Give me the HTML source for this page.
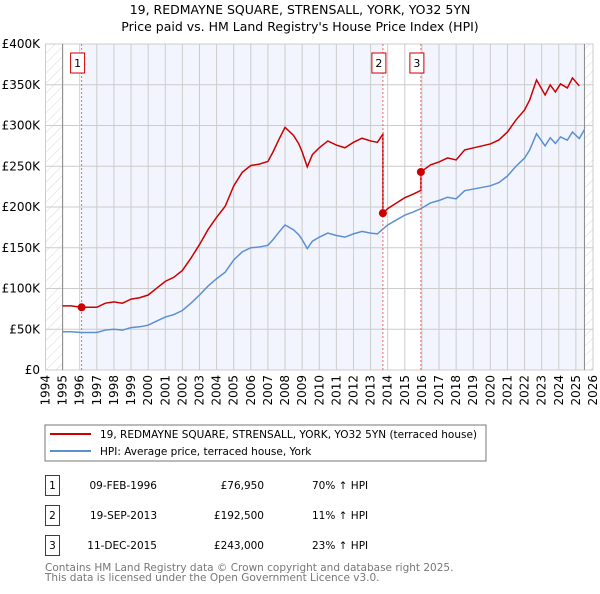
<!DOCTYPE html>
<html><head><meta charset="utf-8"><style>
body{margin:0;background:#fff;font-family:"DejaVu Sans","Liberation Sans",sans-serif;}
svg text{font-family:"DejaVu Sans","Liberation Sans",sans-serif;}
</style></head><body>
<svg id="chart" width="600" height="590" xmlns="http://www.w3.org/2000/svg">
<defs>
<pattern id="hatch" width="7" height="7" patternUnits="userSpaceOnUse" patternTransform="rotate(45)">
<line x1="0" y1="0" x2="0" y2="7" stroke="#d8d8d8" stroke-width="1"/></pattern>
</defs>
<text x="300" y="14" text-anchor="middle" font-size="12.5">19, REDMAYNE SQUARE, STRENSALL, YORK, YO32 5YN</text>
<text x="300" y="31" text-anchor="middle" font-size="12.5">Price paid vs. HM Land Registry's House Price Index (HPI)</text>
<g id="plot"></g>
<g>
<rect x="45" y="425" width="441" height="36" fill="#fff" stroke="#777"/>
<line x1="50" y1="434" x2="91" y2="434" stroke="#cc0000" stroke-width="2"/>
<text x="100" y="438" font-size="10.5">19, REDMAYNE SQUARE, STRENSALL, YORK, YO32 5YN (terraced house)</text>
<line x1="50" y1="451" x2="91" y2="451" stroke="#5b8fd4" stroke-width="2"/>
<text x="100" y="455" font-size="10.5">HPI: Average price, terraced house, York</text>
</g>
<g id="table" font-size="10.5"></g>
<text x="45" y="571" font-size="10.5" fill="#777">Contains HM Land Registry data © Crown copyright and database right 2025.</text>
<text x="45" y="581" font-size="10.5" fill="#777">This data is licensed under the Open Government Licence v3.0.</text>
</svg>
<script>
const hpiYears=[1995,1995.5,1996.1,1996.6,1997,1997.5,1998,1998.5,1999,1999.5,2000,2000.5,2001,2001.5,2002,2002.5,2003,2003.5,2004,2004.5,2005,2005.5,2006,2006.5,2007,2007.3,2007.6,2008,2008.5,2008.8,2009,2009.3,2009.6,2010,2010.5,2011,2011.5,2012,2012.5,2013,2013.4,2013.72,2014,2014.5,2015,2015.5,2015.94,2016.5,2017,2017.5,2018,2018.5,2019,2019.5,2020,2020.5,2021,2021.5,2022,2022.3,2022.7,2023.2,2023.5,2023.8,2024.1,2024.5,2024.8,2025.2,2025.5];
const hpiValues=[47,47,46,46,46,49,50,49,52,53,55,60,65,68,73,82,92,103,112,120,135,145,150,151,153,160,168,178,172,166,160,149,158,163,168,165,163,167,170,168,167,173,178,184,190,194,198,205,208,212,210,220,222,224,226,230,238,250,260,270,290,275,285,278,286,282,292,284,295];
const saleYears=[1996.11,2013.72,2015.94];
const salePrices=[76.95,192.5,243.0];
const saleDates=["09-FEB-1996","19-SEP-2013","11-DEC-2015"];
const salePriceLabels=["£76,950","£192,500","£243,000"];
const saleHpiLabels=["70% ↑ HPI","11% ↑ HPI","23% ↑ HPI"];
const yTicks=[0,50,100,150,200,250,300,350,400];
const yTickLabels=["£0","£50K","£100K","£150K","£200K","£250K","£300K","£350K","£400K"];
const xTicks=[1994,1995,1996,1997,1998,1999,2000,2001,2002,2003,2004,2005,2006,2007,2008,2009,2010,2011,2012,2013,2014,2015,2016,2017,2018,2019,2020,2021,2022,2023,2024,2025,2026];

const NS="http://www.w3.org/2000/svg";
const X=y=>45.5+(y-1994)*(593-45.5)/32;
const Y=v=>370-v*(370-44)/400;
function mk(tag,attrs,parent){const e=document.createElementNS(NS,tag);for(const k in attrs)e.setAttribute(k,attrs[k]);parent.appendChild(e);return e;}
const plot=document.getElementById('plot');
const yTop=Y(400),yBot=Y(0);
mk('rect',{x:X(1994),y:yTop,width:X(2026)-X(1994),height:yBot-yTop,fill:'#fff',stroke:'#ccc'},plot);
const bgs=[[1996.11,2013.72],[2015.94,2025.5]];
bgs.forEach(b=>{const r=mk('rect',{x:X(b[0]),y:yTop,width:X(b[1])-X(b[0]),height:yBot-yTop,fill:'#f2f5fd'},plot);

});
const h1=mk('rect',{x:X(1994),y:yTop,width:X(1995)-X(1994),height:yBot-yTop,fill:'url(#hatch)'},plot);


const h2=mk('rect',{x:X(2025.5),y:yTop,width:X(2026)-X(2025.5),height:yBot-yTop,fill:'url(#hatch)'},plot);


yTicks.forEach((t,i)=>{
 mk('line',{x1:X(1994),x2:X(2026),y1:Y(t),y2:Y(t),stroke:'#ccc'},plot);
 const tx=mk('text',{x:40,y:Y(t)+4,'text-anchor':'end','font-size':12},plot);tx.textContent=yTickLabels[i];
 
 
});
xTicks.forEach(t=>{
 mk('line',{x1:X(t),x2:X(t),y1:yTop,y2:yBot,stroke:'#ccc'},plot);
 const tx=mk('text',{x:0,y:0,'text-anchor':'end','font-size':12,transform:`translate(${X(t)+4},${yBot+5}) rotate(-90)`},plot);tx.textContent=t;
 
 
});
mk('line',{x1:X(1995),x2:X(1995),y1:yTop,y2:yBot,stroke:'#888'},plot);
mk('line',{x1:X(2025.5),x2:X(2025.5),y1:yTop,y2:yBot,stroke:'#888'},plot);
function hpiAt(t){for(let i=1;i<hpiYears.length;i++){if(t<=hpiYears[i]){const a=hpiYears[i-1],b=hpiYears[i];return hpiValues[i-1]+(hpiValues[i]-hpiValues[i-1])*(t-a)/(b-a);}}return hpiValues[hpiValues.length-1];}
const hp=mk('polyline',{points:hpiYears.map((t,i)=>X(t)+','+Y(hpiValues[i])).join(' '),fill:'none',stroke:'#5b8fd4','stroke-width':1.5},plot);


let pts=[];
const segStart=[1995,saleYears[1],saleYears[2]];
const segEnd=[saleYears[1],saleYears[2],2025.5];
const ratios=[salePrices[0]/hpiAt(saleYears[0]),salePrices[1]/hpiAt(saleYears[1]),salePrices[2]/hpiAt(saleYears[2])];
for(let s=0;s<3;s++){
 const ts=[segStart[s]].concat(hpiYears.filter(t=>t>segStart[s]&&t<segEnd[s]));
 if(s<2) ts.push(segEnd[s]-0.001);
 ts.forEach(t=>pts.push(X(t)+','+Y(hpiAt(t)*ratios[s])));
}
const rp=mk('polyline',{points:pts.join(' '),fill:'none',stroke:'#cc0000','stroke-width':1.5},plot);


saleYears.forEach((t,i)=>{
 mk('line',{x1:X(t),x2:X(t),y1:yTop,y2:yBot,stroke:'#e66','stroke-dasharray':'2,2','stroke-width':1},plot);
 const c=mk('circle',{cx:X(t),cy:Y(salePrices[i]),r:4,fill:'#cc0000'},plot);
 
 
 const bx=X(t)-11;
 mk('rect',{x:bx,y:53,width:14,height:20,fill:'#fff',stroke:'#cc0000'},plot);
 const l=mk('text',{x:bx+7,y:67,'text-anchor':'middle','font-size':11},plot);l.textContent=i+1;
 
 
});
const tb=document.getElementById('table');
[0,1,2].forEach(i=>{
 const y=475+i*30;
 const g=mk('g',{},tb);
 
 
 mk('rect',{x:45.5,y:y+0.5,width:14,height:20,fill:'#fff',stroke:'#cc0000'},g);
 let t=mk('text',{x:52.5,y:y+14,'text-anchor':'middle'},g);t.textContent=i+1;
 t=mk('text',{x:157,y:y+14,'text-anchor':'end'},g);t.textContent=saleDates[i];
 t=mk('text',{x:264,y:y+14,'text-anchor':'end'},g);t.textContent=salePriceLabels[i];
 t=mk('text',{x:312,y:y+14},g);t.textContent=saleHpiLabels[i];
});
</script>
</body></html>
